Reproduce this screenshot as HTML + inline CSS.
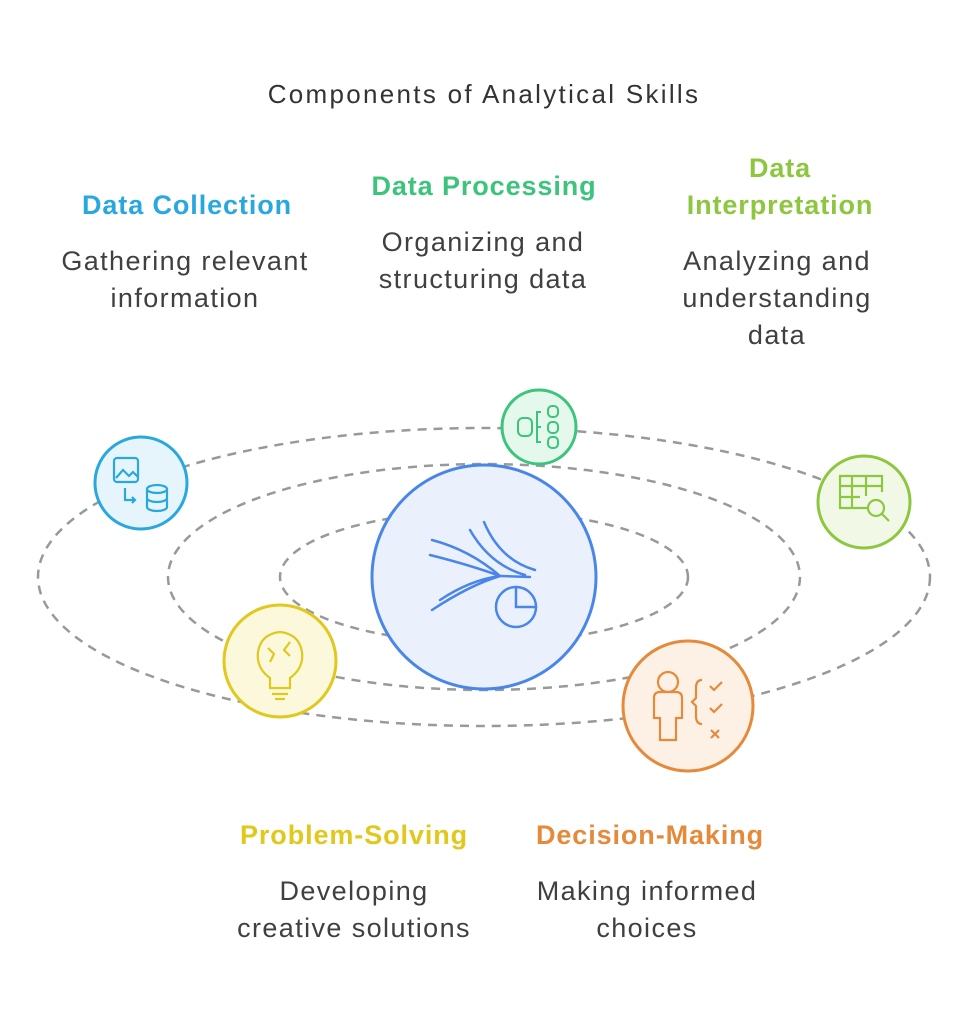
<!DOCTYPE html>
<html><head><meta charset="utf-8"><style>
body{margin:0;background:#fff;width:968px;height:1024px;overflow:hidden;font-family:"Liberation Sans",sans-serif}
.t{position:absolute;text-align:center;line-height:37px;font-size:27px;color:#404040;letter-spacing:1.4px}
.h{font-weight:bold;letter-spacing:0.9px}
</style></head><body>
<div class="t" style="left:134px;top:76px;width:700px;font-size:26px;color:#333;letter-spacing:2.3px">Components of Analytical Skills</div>
<div class="t h" style="left:37px;top:187px;width:300px;color:#29a8df">Data Collection</div>
<div class="t" style="left:35px;top:243px;width:300px">Gathering relevant<br>information</div>
<div class="t h" style="left:334px;top:168px;width:300px;color:#3cc47c">Data Processing</div>
<div class="t" style="left:333px;top:224px;width:300px">Organizing and<br>structuring data</div>
<div class="t h" style="left:630px;top:150px;width:300px;color:#8dc63f">Data<br>Interpretation</div>
<div class="t" style="left:627px;top:243px;width:300px">Analyzing and<br>understanding<br>data</div>
<div class="t h" style="left:204px;top:817px;width:300px;color:#e0c81c">Problem-Solving</div>
<div class="t" style="left:204px;top:873px;width:300px">Developing<br>creative solutions</div>
<div class="t h" style="left:500px;top:817px;width:300px;color:#e58a3b">Decision-Making</div>
<div class="t" style="left:497px;top:873px;width:300px">Making informed<br>choices</div>
<svg width="968" height="1024" style="position:absolute;left:0;top:0">
<g fill="none" stroke="#999" stroke-width="2.5" stroke-dasharray="9 7">
<ellipse cx="484" cy="577" rx="446" ry="149"/>
<ellipse cx="484" cy="577" rx="316" ry="113"/>
<ellipse cx="484" cy="577" rx="204" ry="66"/>
</g>
<circle cx="484" cy="577" r="112" fill="#eaf1fd" stroke="#4a86e8" stroke-width="3"/>
<g fill="none" stroke="#4a86e8" stroke-width="2.5" stroke-linecap="round">
<path d="M432 540 Q470 550 500 576 M430 555 Q470 565 500 576 M440 600 Q470 580 500 576 M432 610 Q470 585 500 576"/>
<path d="M484 522 Q500 560 535 570 M470 530 Q490 565 525 575"/>
<path d="M500 576 L530 577"/>
<circle cx="516" cy="607" r="20"/><path d="M516 587 V607 H536"/>
</g>
<circle cx="141" cy="483" r="46" fill="#e6f5fc" stroke="#29a8df" stroke-width="3"/>
<g fill="none" stroke="#29a8df" stroke-width="2.2"><rect x="114" y="458" width="24" height="24" rx="3"/><path d="M116 478 l7-8 6 6 4-4 5 5"/><path d="M125 488 v12 h10 m-3 -3 l3 3 -3 3"/><ellipse cx="157" cy="489" rx="10" ry="4"/><path d="M147 489 v18 a10 4 0 0 0 20 0 v-18 M147 498 a10 4 0 0 0 20 0"/></g>
<circle cx="539" cy="427" r="37" fill="#e4f8ec" stroke="#3cc47c" stroke-width="3"/>
<g fill="none" stroke="#3cc47c" stroke-width="2"><rect x="518" y="418" width="14" height="18" rx="5"/><path d="M541 412 h-4 v30 h4 M537 427 h4"/><rect x="548" y="406" width="10" height="11" rx="4"/><rect x="548" y="422" width="10" height="11" rx="4"/><rect x="548" y="437" width="10" height="11" rx="4"/></g>
<circle cx="864" cy="502" r="46" fill="#f1f9e6" stroke="#8dc63f" stroke-width="3"/>
<g fill="none" stroke="#8dc63f" stroke-width="2.2"><path d="M868 508 H840 V476 H882 V492 M840 486 H882 M852 476 V508 M866 476 V496 M840 497 H860"/><circle cx="876" cy="508" r="8"/><path d="M882 514 l7 7"/></g>
<circle cx="280" cy="661" r="56" fill="#fcf8dc" stroke="#e0c81c" stroke-width="3"/>
<g fill="none" stroke="#e0c81c" stroke-width="2.2"><path d="M270 688 v-10 q-14-10-12-26 q3-18 22-20 q19 2 22 20 q2 16-12 26 v10 z M272 694 h16 M275 699 h10"/><path d="M268 648 l6 6 -4 8 M290 642 l-6 8 6 6"/></g>
<circle cx="688" cy="706" r="65" fill="#fdf0e5" stroke="#e58a3b" stroke-width="3"/>
<g fill="none" stroke="#e58a3b" stroke-width="2.2"><circle cx="668" cy="682" r="10"/><path d="M660 740 v-22 h-6 v-20 q0-6 6-6 h16 q6 0 6 6 v20 h-6 v22 z"/><path d="M702 680 q-6 0-6 8 v10 l-4 4 4 4 v10 q0 8 6 8"/><path d="M710 686 l4 4 8-8 M710 708 l4 4 8-8 M711 730 l8 8 M719 730 l-8 8"/></g>
</svg>
</body></html>
